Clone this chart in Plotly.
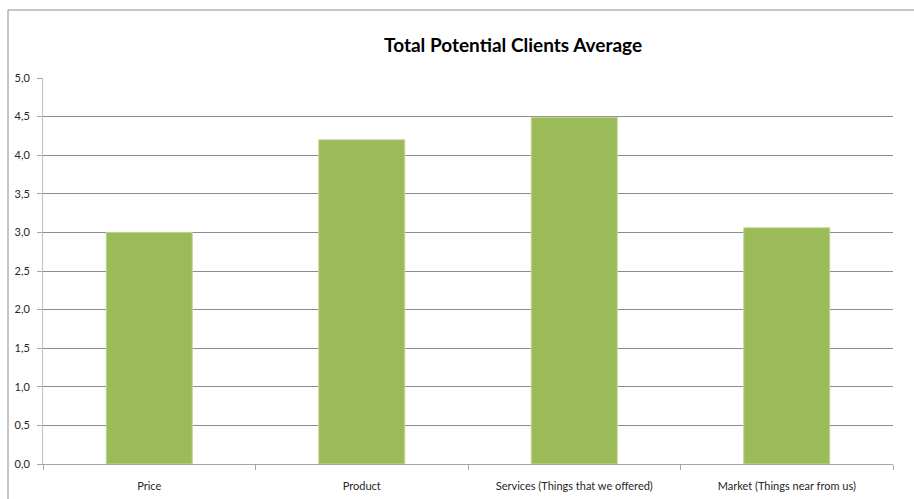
import plotly.graph_objects as go

categories = ["Price", "Product", "Services (Things that we offered)", "Market (Things near from us)"]
averages = [3.0, 4.2, 4.49, 3.06]
y_ticks = [0, 0.5, 1, 1.5, 2, 2.5, 3, 3.5, 4, 4.5, 5]

FONT = "Liberation Sans Narrow, Arial Narrow, Lato, sans-serif"

fig = go.Figure(
    go.Bar(
        x=categories,
        y=averages,
        marker=dict(color="#9BBB59", line=dict(color="#C3D69B", width=1)),
        hoverinfo="x+y",
    )
)

fig.update_layout(
    width=914,
    height=499,
    margin=dict(l=43, r=21, t=78, b=35),
    paper_bgcolor="white",
    plot_bgcolor="white",
    separators=",.",
    bargap=0.595,
    showlegend=False,
    font=dict(family=FONT, size=11, color="#262626"),
    title=dict(
        text="<b>Total Potential Clients Average</b>",
        font=dict(family=FONT, size=19, color="#000000"),
        x=0.553,
        xref="paper",
        xanchor="center",
        y=1 - 45 / 499,
        yref="container",
        yanchor="middle",
    ),
    xaxis=dict(
        type="category",
        automargin=False,
        showline=True,
        linecolor="#A6A6A6",
        linewidth=1,
        ticks="outside",
        tickson="boundaries",
        ticklen=5,
        tickcolor="#A6A6A6",
        ticklabelstandoff=12,
        showgrid=False,
        tickfont=dict(size=11, color="#262626"),
    ),
    yaxis=dict(
        range=[0, 5],
        automargin=False,
        tickvals=y_ticks,
        tickformat=".1f",
        showline=True,
        linecolor="#BFBFBF",
        linewidth=1,
        ticks="outside",
        ticklen=5,
        tickcolor="#A6A6A6",
        ticklabelstandoff=5,
        showgrid=True,
        gridcolor="#8C8C8C",
        gridwidth=1,
        zeroline=False,
        tickfont=dict(size=11, color="#262626"),
    ),
    shapes=[
        # chart frame: left and top edges
        dict(type="line", xref="paper", yref="paper",
             x0=-35 / 850, x1=-35 / 850, y0=-0.2, y1=454 / 386,
             line=dict(color="#8C8C8C", width=1)),
        dict(type="line", xref="paper", yref="paper",
             x0=-35 / 850, x1=1.1, y0=454 / 386, y1=454 / 386,
             line=dict(color="#8C8C8C", width=1)),
    ],
)

fig.write_html("out.html")
